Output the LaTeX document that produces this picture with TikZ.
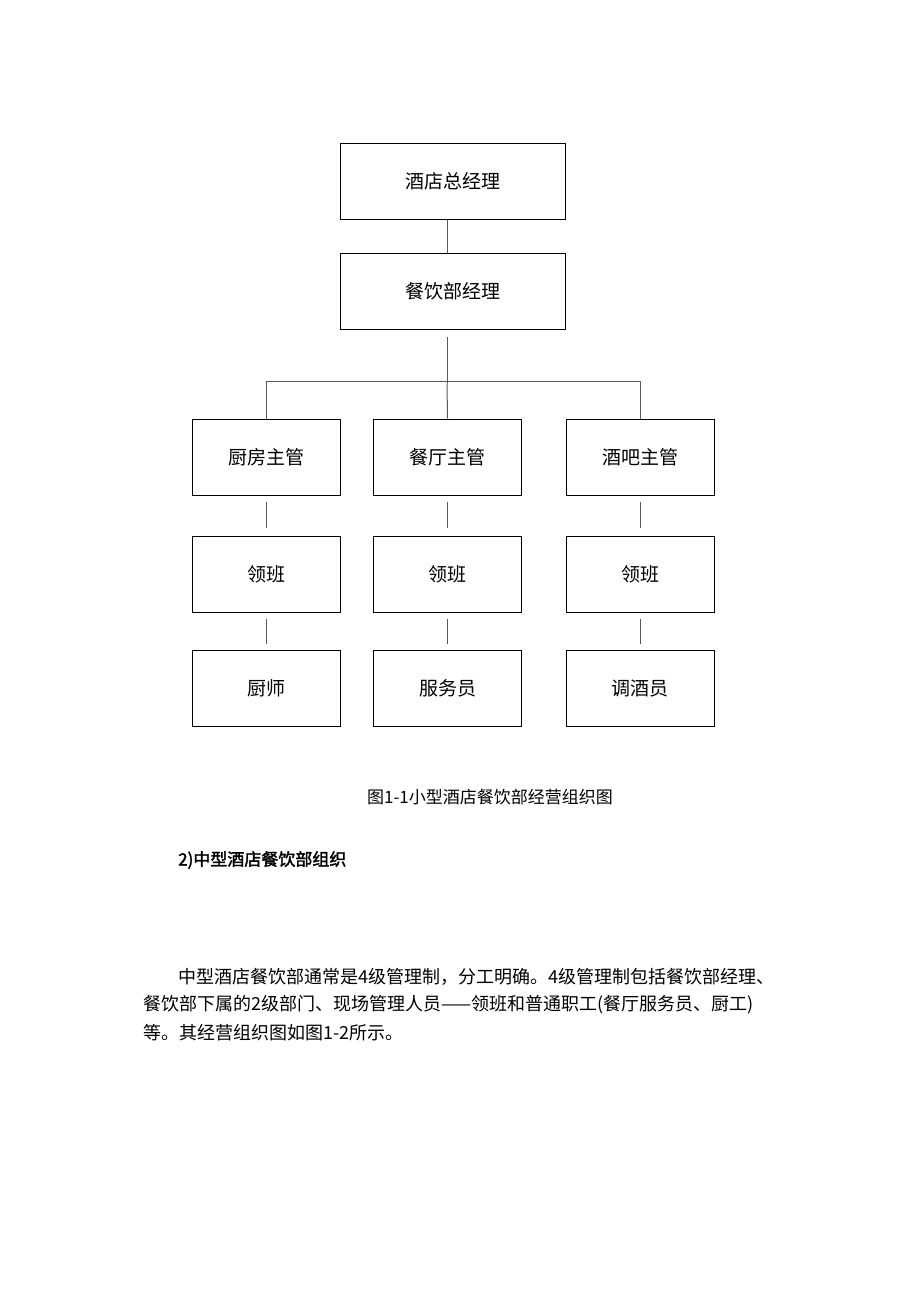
\documentclass[tikz,border=0pt]{standalone}
\usepackage{fontspec}
\newfontfamily\cjk{Noto Sans CJK SC}
\newfontfamily\cjkb[FakeBold=2]{Noto Sans CJK SC}
\begin{document}
\begin{tikzpicture}[x=1pt,y=-1pt]
      \tikzset{post/.style={draw, line width=1pt, minimum width=148pt, minimum height=76pt, inner sep=0pt, font=\cjk\fontsize{19}{19}\selectfont},
               wide/.style={post, minimum width=225pt},
               link/.style={line width=1pt, gray!70!black},
               txt/.style={anchor=west, inner sep=0pt, font=\cjk\fontsize{18}{18}\selectfont}}
      \useasboundingbox (0,0) rectangle (920,1302);

      \node[wide] (GM) at (452.5,181.5) {酒店总经理};
      \node[wide] (FB) at (452.5,291) {餐饮部经理};

      \node[post] (KS) at (266,457) {厨房主管};
      \node[post] (RS) at (447.5,457) {餐厅主管};
      \node[post] (BS) at (640,457) {酒吧主管};

      \node[post] (KL) at (266,574) {领班};
      \node[post] (RL) at (447.5,574) {领班};
      \node[post] (BL) at (640,574) {领班};

      \node[post] (KC) at (266,688) {厨师};
      \node[post] (RW) at (447.5,688) {服务员};
      \node[post] (BT) at (640,688) {调酒员};

      \coordinate (bus) at (447,383);
      \draw[link] (447,220) -- (447,253);
      \draw[link] (447,337) -- (bus);
      \draw[link] (KS.north) -- ++(0,-37) -| (BS.north);
      \draw[link] (bus) -- (RS.north);

      \draw[link, shorten <=6pt, shorten >=8pt] (KS) -- (KL);
      \draw[link, shorten <=6pt, shorten >=8pt] (RS) -- (RL);
      \draw[link, shorten <=6pt, shorten >=8pt] (BS) -- (BL);
      \draw[link, shorten <=6pt, shorten >=6pt] (KL) -- (KC);
      \draw[link, shorten <=6pt, shorten >=6pt] (RL) -- (RW);
      \draw[link, shorten <=6pt, shorten >=6pt] (BL) -- (BT);

      \node[txt, anchor=center, font=\cjk\fontsize{17}{17}\selectfont] (cap) at (490,797) {图1-1小型酒店餐饮部经营组织图};
      \node[txt, font=\cjkb\fontsize{17}{17}\selectfont] (head) at (178,860) {2)中型酒店餐饮部组织};
      \node[txt] (p1) at (178,977) {中型酒店餐饮部通常是4级管理制，分工明确。4级管理制包括餐饮部经理、};
      \node[txt] (p2) at (143,1005) {餐饮部下属的2级部门、现场管理人员——领班和普通职工(餐厅服务员、厨工)};
      \node[txt] (p3) at (143,1033) {等。其经营组织图如图1-2所示。};
\end{tikzpicture}
\end{document}
